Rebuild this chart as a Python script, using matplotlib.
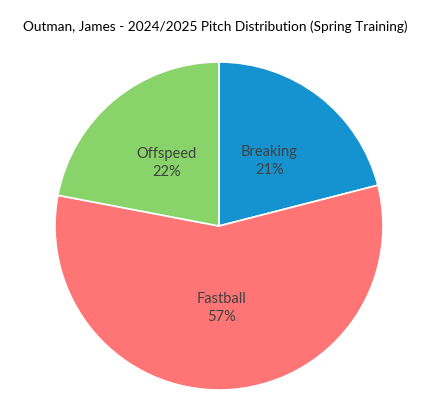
import matplotlib
matplotlib.use('Agg')
import matplotlib.pyplot as plt

plt.rcParams['font.family'] = ['Lato', 'DejaVu Sans']

# pitch mix
pitch_types = ['Breaking', 'Fastball', 'Offspeed']
shares = [21, 57, 22]
colors = ['#1593d0', '#ff7575', '#88d46a']
title = 'Outman, James - 2024/2025 Pitch Distribution (Spring Training)'

fig = plt.figure(figsize=(4.42, 4.18), dpi=100)
ax = fig.add_axes([55 / 442, 28 / 418, 328 / 442, 328 / 418])

labels = [f'{name}\n{val}%' for name, val in zip(pitch_types, shares)]
wedges, texts = ax.pie(shares, labels=labels, colors=colors, startangle=90,
                       counterclock=False, labeldistance=0.5,
                       wedgeprops={'edgecolor': 'white', 'linewidth': 1.2},
                       textprops={'fontsize': 10.5, 'color': '#404040',
                                  'ha': 'center', 'va': 'center',
                                  'multialignment': 'center', 'linespacing': 1.4})
ax.set_xlim(-1, 1)
ax.set_ylim(-1, 1)
ax.set_aspect('equal')

fig.text(0.487, 1 - 27 / 418, title, ha='center', va='center', fontsize=9.8, color='black')

fig.savefig('out.png', dpi=100)
